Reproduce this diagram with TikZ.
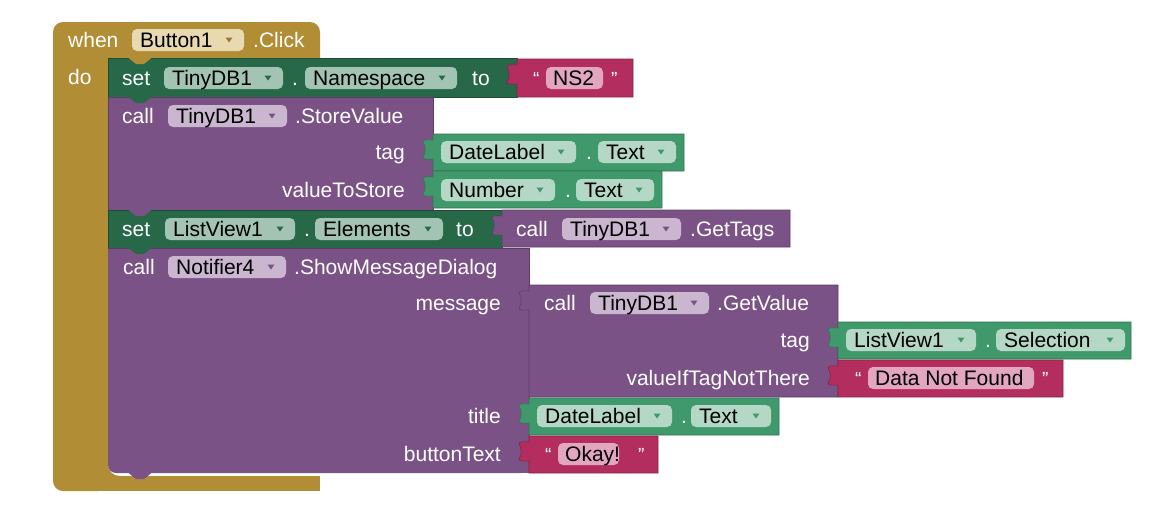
\documentclass[tikz,border=0pt]{standalone}
\usepackage{fontspec}
\setmainfont{Liberation Sans}
\definecolor{gold}{HTML}{B18E35}
\definecolor{goldf}{HTML}{E8D9B0}
\definecolor{golda}{HTML}{9A7A2C}
\definecolor{setg}{HTML}{266848}
\definecolor{setf}{HTML}{A3C4B3}
\definecolor{purp}{HTML}{7B5286}
\definecolor{purpf}{HTML}{CAB6CF}
\definecolor{compg}{HTML}{40996B}
\definecolor{compf}{HTML}{B4D8C5}
\definecolor{crim}{HTML}{B32E5F}
\definecolor{crimf}{HTML}{E2A6BF}
\newcommand{\fs}{\fontsize{21}{25}\selectfont}
\newcommand{\qfs}{\fontsize{19}{19}\selectfont}
% value block with output tab: colour, x1, y1, x2, y2
\newcommand{\vblk}[5]{\fill[#1,draw=#1!75!black,line width=.6pt] (#2,#3) -- (#4,#3) -- (#4,#5) -- (#2,#5) -- (#2,#3+25) .. controls (#2-4,#3+25) and (#2-10,#3+26) .. (#2-10,#3+23) .. controls (#2-7,#3+19) and (#2-7,#3+12) .. (#2-10,#3+8) .. controls (#2-10,#3+5) and (#2-4,#3+6) .. (#2,#3+6) -- cycle;}
% statement block: colour, x1, y1, x2, y2
\newcommand{\sblk}[5]{\fill[#1,draw=#1!75!black,line width=.6pt] (#2,#3) rectangle (#4,#5);}
% statement bottom tab: colour, x, y
\newcommand{\stab}[3]{\fill[#1] (#2+20,#3-0.5) -- (#2+28,#3+6) -- (#2+36,#3+6) -- (#2+44,#3-0.5) -- cycle;}
% dropdown field: name, fill, arrow, x1, x2, yc, text
\newcommand{\ddf}[7]{\fill[#2,rounded corners=5pt] (#4,#6-11) rectangle (#5,#6+11);
\node[ftxt,anchor=base west] (#1) at (#4+8,#6+7.5) {#7};
\fill[#3] (#5-18.5,#6-2.5) -- (#5-11.5,#6-2.5) -- (#5-15,#6+2.5) -- cycle;}
% plain text field: name, fill, x1, x2, yc, text
\newcommand{\txf}[6]{\fill[#2,rounded corners=5pt] (#3,#5-11) rectangle (#4,#5+11);
\node[ftxt,anchor=base west] (#1) at (#3+7,#5+7.5) {#6};}
\newcommand{\lbw}[4]{\node[lbl,anchor=base west] (#1) at (#2,#3+7.5) {#4};}
\newcommand{\lbe}[4]{\node[lbl,anchor=base east] (#1) at (#2,#3+7.5) {#4};}
\newcommand{\quo}[4]{\node[lbl,font=\qfs,anchor=base west] (#1) at (#2,#3+7) {#4};}
\begin{document}
\begin{tikzpicture}[x=1pt,y=-1pt,
  lbl/.style={text=white,font=\fs,inner sep=0pt},
  ftxt/.style={text=black,font=\fs,inner sep=0pt}]
\useasboundingbox (0,0) rectangle (1159,528);
% event block
\fill[gold,rounded corners=10pt] (53,22) rectangle (108,491);
\fill[gold] (95,22) -- (310,22) arc[start angle=90,end angle=0,radius=10pt] -- (320,58) -- (95,58) -- cycle;
\fill[gold] (95,476) rectangle (320,491);
\fill[gold] (120,476) .. controls (113,476) and (108,471) .. (108,464) -- (108,476) -- cycle;
% set TinyDB1.Namespace
\sblk{setg}{108}{58}{517}{97}
\stab{gold}{108}{58}
\vblk{crim}{517}{59}{633}{97}
% call StoreValue
\sblk{purp}{108}{97}{433}{210}
\stab{setg}{108}{97}
\vblk{compg}{433}{134}{684}{171}
\vblk{compg}{433}{171}{662}{208}
% set ListView1.Elements
\sblk{setg}{108}{210}{502}{248}
\stab{purp}{108}{210}
\vblk{purp}{502}{210}{790}{247}
% call Notifier4.ShowMessageDialog
\fill[purp,rounded corners=8pt] (108,248) rectangle (529,473);
\fill[purp] (108,248) rectangle (529,460);
\fill[purp] (125,248) rectangle (529,473);
\draw[purp!75!black,line width=.6pt] (108,248) -- (529,248) -- (529,473);
\stab{setg}{108}{248}
\vblk{purp}{529}{285}{838}{397}
\vblk{compg}{838}{322}{1131}{359}
\vblk{crim}{838}{360}{1063}{397}
\vblk{compg}{529}{398}{779}{435}
\vblk{crim}{529}{436}{658}{473}
\stab{purp}{108}{473}
% ---- texts ----
\lbw{when}{68}{40}{when}
\ddf{btn}{goldf}{golda}{132}{244}{40}{Button1}
\lbw{click}{253}{40}{.Click}
\lbw{do}{68}{77}{do}
% row set namespace
\lbw{set1}{122}{78}{set}
\ddf{db1}{setf}{setg}{164}{283}{78}{TinyDB1}
\lbw{dot1}{292}{78}{.}
\ddf{ns}{setf}{setg}{305}{457}{78}{Namespace}
\lbw{to1}{472}{78}{to}
\quo{q1}{533}{78}{“}
\txf{ns2}{crimf}{546}{603}{78}{NS2}
\quo{q2}{611}{78}{”}
% row storevalue
\lbw{call1}{122}{116}{call}
\ddf{db2}{purpf}{purp}{168}{287}{116}{TinyDB1}
\lbw{sv}{295}{116}{.StoreValue}
\lbe{tag1}{405}{152}{tag}
\lbe{vts}{405}{190}{valueToStore}
\ddf{dl1}{compf}{compg}{441}{576}{152}{DateLabel}
\lbw{dot2}{586}{152}{.}
\ddf{tx1}{compf}{compg}{598}{676}{152}{Text}
\ddf{num}{compf}{compg}{441}{555}{190}{Number}
\lbw{dot3}{565}{190}{.}
\ddf{tx2}{compf}{compg}{576}{654}{190}{Text}
% row set elements
\lbw{set2}{122}{229}{set}
\ddf{lv1}{setf}{setg}{165}{295}{229}{ListView1}
\lbw{dot4}{304}{229}{.}
\ddf{el}{setf}{setg}{315}{443}{229}{Elements}
\lbw{to2}{456}{229}{to}
\lbw{call2}{516}{229}{call}
\ddf{db3}{purpf}{purp}{562}{681}{229}{TinyDB1}
\lbw{gt}{690}{229}{.GetTags}
% row notifier
\lbw{call3}{123}{267}{call}
\ddf{nt}{purpf}{purp}{168}{286}{267}{Notifier4}
\lbw{smd}{294}{267}{.ShowMessageDialog}
\lbe{msg}{501}{303}{message}
\lbe{ttl}{501}{416}{title}
\lbe{btx}{501}{454}{buttonText}
% getvalue
\lbw{call4}{544}{303}{call}
\ddf{db4}{purpf}{purp}{590}{709}{303}{TinyDB1}
\lbw{gv}{717}{303}{.GetValue}
\lbe{tag2}{810}{340}{tag}
\lbe{vit}{810}{378}{valueIfTagNotThere}
\ddf{lv2}{compf}{compg}{846}{976}{340}{ListView1}
\lbw{dot5}{985}{340}{.}
\ddf{sel}{compf}{compg}{996}{1125}{340}{Selection}
\quo{q3}{855}{378}{“}
\txf{dnf}{crimf}{868}{1034}{378}{Data Not Found}
\quo{q4}{1042}{378}{”}
\ddf{dl2}{compf}{compg}{537}{672}{416}{DateLabel}
\lbw{dot6}{681}{416}{.}
\ddf{tx3}{compf}{compg}{691}{771}{416}{Text}
\quo{q5}{545}{454}{“}
\txf{ok}{crimf}{558}{619}{454}{Okay!}
\quo{q6}{638}{454}{”}
\end{tikzpicture}
\end{document}
